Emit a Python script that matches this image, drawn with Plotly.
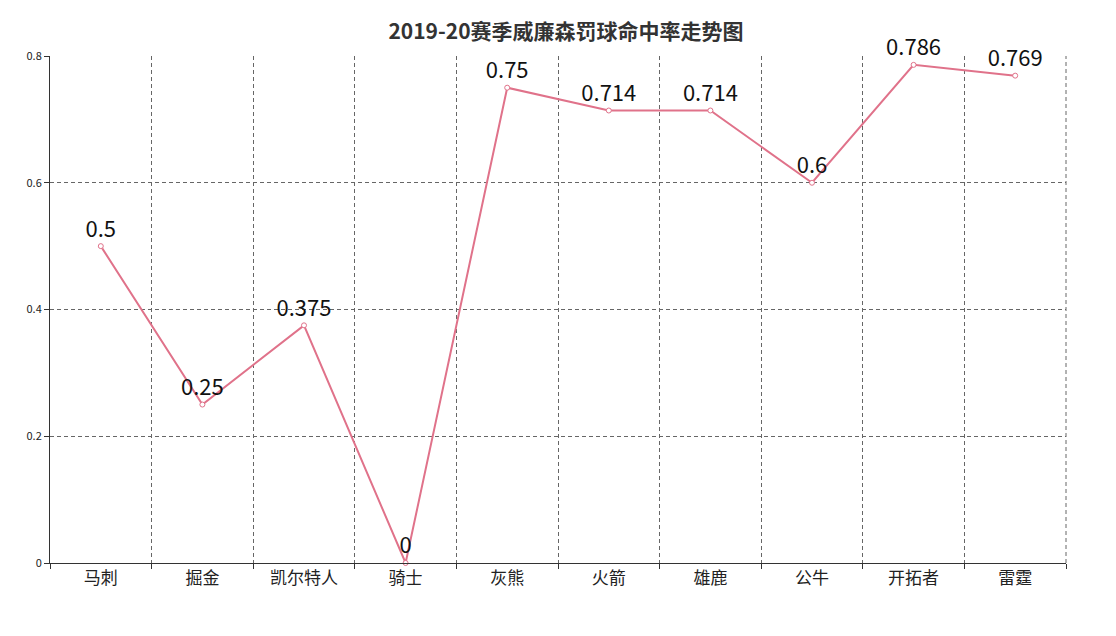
import plotly.graph_objects as go

teams = ["马刺", "掘金", "凯尔特人", "骑士", "灰熊", "火箭", "雄鹿", "公牛", "开拓者", "雷霆"]
ft_pct = [0.5, 0.25, 0.375, 0, 0.75, 0.714, 0.714, 0.6, 0.786, 0.769]
y_ticks = [0, 0.2, 0.4, 0.6, 0.8]

x = list(range(len(teams)))
fig = go.Figure()
fig.add_trace(go.Scatter(
    x=x, y=ft_pct, mode="lines+markers+text",
    text=[str(v) for v in ft_pct], textposition="top center",
    textfont=dict(size=22, color="#111"),
    line=dict(color="#e0728a", width=2),
    marker=dict(size=5, color="white", line=dict(color="#e0728a", width=1)),
    cliponaxis=False,
))

fig.update_layout(
    width=1116, height=636,
    margin=dict(l=42, r=58, t=48, b=81),
    plot_bgcolor="white", paper_bgcolor="white",
    font=dict(family="Noto Sans CJK SC, Noto Sans", color="#333"),
    title=dict(text="<b>2019-20赛季威廉森罚球命中率走势图</b>", x=0.5, y=0.975,
               xanchor="center", font=dict(size=21, color="#333")),
    showlegend=False,
)
fig.update_xaxes(
    range=[-0.5, len(teams) - 0.5], tickvals=x, ticktext=teams,
    tickfont=dict(size=17, color="#222"),
    showgrid=False, showline=True, linecolor="#333", zeroline=False,
    minor=dict(tickvals=[i - 0.5 for i in range(len(teams) + 1)], showgrid=True,
               gridcolor="#666", griddash="4px,3px", ticks="outside", ticklen=5, tickcolor="#333"),
)
fig.update_yaxes(
    range=[0, 0.8], tickvals=y_ticks, ticktext=["0", "0.2", "0.4", "0.6", "0.8"],
    tickfont=dict(size=11, color="#222"), ticks="outside", ticklen=5, tickcolor="#333",
    showline=True, linecolor="#333", mirror=False, zeroline=False,
    gridcolor="#666", griddash="4px,3px",
)
fig.add_shape(type="line", xref="paper", yref="paper", x0=1, x1=1, y0=0, y1=1,
              line=dict(color="#666", dash="4px,3px", width=1))
fig.add_annotation(text="头条 @篮球雨果", xref="paper", yref="paper", x=1.04, y=-0.13,
                   xanchor="right", showarrow=False, font=dict(size=20, color="white"))
fig.write_html("out.html")
